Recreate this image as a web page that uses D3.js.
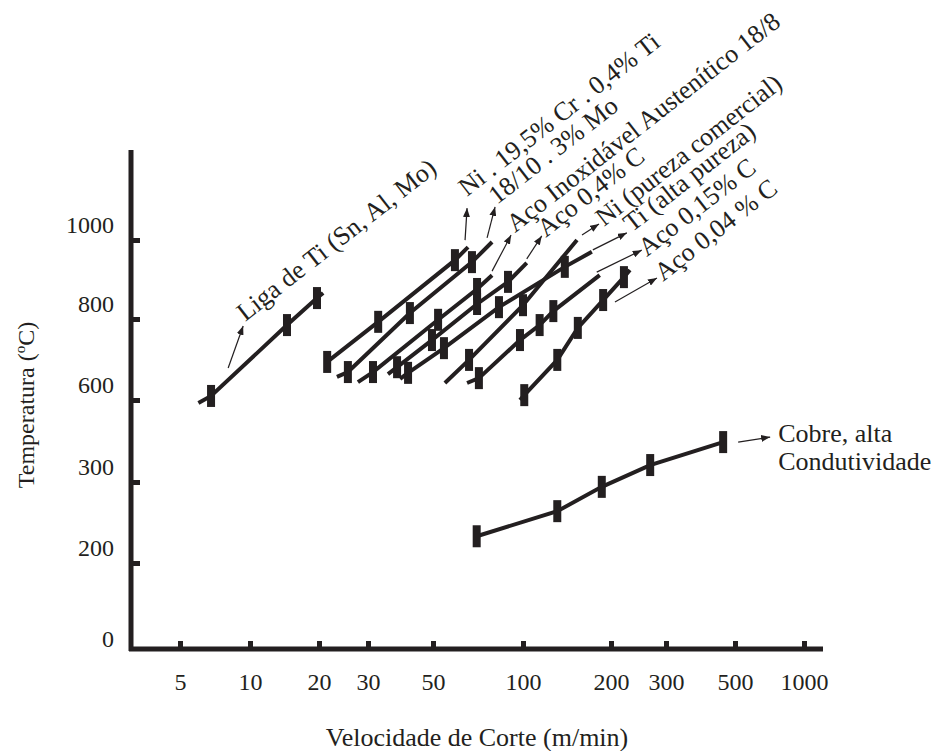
<!DOCTYPE html>
<html>
<head>
<meta charset="utf-8">
<script src="https://cdn.jsdelivr.net/npm/d3@7"></script>
<style>
  body { margin: 0; background: #fff; }
  text { font-family: "Liberation Serif", "Times New Roman", serif; fill: #231f20; }
</style>
</head>
<body>
<div id="viz"></div>
<script>
// axis ticks: cutting speed (m/min) and temperature (°C)
const xTicks = [5, 10, 20, 30, 50, 100, 200, 300, 500, 1000]
const yTicks = [0, 200, 300, 600, 800, 1000]

// measured points for each material: speed V (m/min), temperature T (°C)
const ligaTiV = [6.8, 14.5, 19.6]
const ligaTiT = [610, 785, 853]
const niCrV = [21.4, 32.5, 59.2]
const niCrT = [694, 793, 949]
const moV = [25.4, 41.7, 67.5]
const moT = [669, 815, 944]
const inoxV = [31.2, 52, 70.2]
const inoxT = [669, 798, 876]
const aco04V = [37.7, 49.6, 70.2, 89.1]
const aco04T = [681, 748, 838, 894]
const tiV = [41.1, 54.4, 83.1, 139]
const tiT = [667, 728, 830, 932]
const niV = [66, 100]
const niT = [699, 835]
const aco015V = [71.2, 97.7, 114, 127]
const aco015T = [654, 748, 785, 820]
const aco004V = [101, 131, 154, 188, 220]
const aco004T = [612, 699, 778, 848, 906]
const cobreV = [70, 131, 186, 267, 458]
const cobreT = [233, 264, 294, 362, 446]

// where each drawn line starts and ends [V, T]
const ligaTiLine = [[6.0, 589], [20.7, 866]]
const niCrLine = [[21.4, 694], [65.5, 982]]
const moLine = [[23.2, 657], [78.8, 995]]
const inoxLine = [[27.6, 644], [78.8, 911]]
const aco04Line = [[35.1, 664], [103, 942]]
const tiLine = [[38.6, 652], [172, 970]]
const niLine = [[54.8, 642], [153, 1000]]
const aco015Line = [[65, 642], [183, 911]]
const aco004Line = [[97.7, 600], [230, 924]]

const width = 937
const height = 751

// arrow (from, to) and label position are pixel offsets from the line end
const series = [
  { v: ligaTiV, t: ligaTiT, line: ligaTiLine, label: "Liga de Ti (Sn, Al, Mo)", arrow: [[-95, 75], [-80, 33]], at: [-78, 29] },
  { v: niCrV, t: niCrT, line: niCrLine, label: "Ni . 19,5% Cr . 0,4% Ti", arrow: [[-3, -7], [-1, -39]], at: [-1, -50] },
  { v: moV, t: moT, line: moLine, label: "18/10 . 3% Mo", arrow: [[-5, -4], [3, -35]], at: [5, -37] },
  { v: inoxV, t: inoxT, line: inoxLine, label: "Aço Inoxidável Austenítico 18/8", arrow: [[0, -4], [19, -40]], at: [23, -42] },
  { v: aco04V, t: aco04T, line: aco04Line, label: "Aço 0,4% C", arrow: [[0, -4], [15, -27]], at: [19, -25] },
  { v: niV, t: niT, line: niLine, label: "Ni (pureza comercial)", arrow: [[5, -5], [22, -16]], at: [27, -13] },
  { v: tiV, t: tiT, line: tiLine, label: "Ti (alta pureza)", arrow: [[1, -2], [35, -19]], at: [40, -19] },
  { v: aco015V, t: aco015T, line: aco015Line, label: "Aço 0,15% C", arrow: [[-3, -3], [42, -25]], at: [47, -18] },
  { v: aco004V, t: aco004T, line: aco004Line, label: "Aço 0,04 % C", arrow: [[-15, 32], [27, 8]], at: [33, 12] },
  { v: cobreV, t: cobreT, line: null, label: null, arrow: [[15, 0], [47, -5]], at: [55, 0] }
]

const svg = d3.select("#viz").append("svg")
  .attr("width", width)
  .attr("height", height)

svg.append("defs").append("marker")
  .attr("id", "head")
  .attr("markerUnits", "userSpaceOnUse")
  .attr("markerWidth", 9)
  .attr("markerHeight", 7)
  .attr("refX", 9)
  .attr("refY", 3.5)
  .attr("orient", "auto")
  .append("path")
    .attr("d", "M0,0 L9,3.5 L0,7 Z")
    .attr("fill", "#231f20")

// the speed axis is hand drawn in the original, so the log scale is piecewise
const x = d3.scaleLog()
  .domain(xTicks)
  .range([180, 250, 319, 368, 433, 523, 611, 666, 735, 804])

const y = d3.scaleLinear()
  .domain(yTicks)
  .range([648, 563, 482, 400, 319, 240])

const ink = "#231f20"

// axes
svg.append("line")
  .attr("x1", 131).attr("x2", 131)
  .attr("y1", 150).attr("y2", 651)
  .attr("stroke", ink).attr("stroke-width", 5)
svg.append("line")
  .attr("x1", 129).attr("x2", 823)
  .attr("y1", 649).attr("y2", 649)
  .attr("stroke", ink).attr("stroke-width", 5)

const xAxis = svg.append("g")
  .attr("transform", "translate(0,649)")
  .call(d3.axisBottom(x).tickValues(xTicks).tickFormat(d3.format("d")).tickSize(-8).tickPadding(24))
xAxis.select(".domain").remove()
xAxis.selectAll(".tick line").attr("stroke", ink).attr("stroke-width", 5)
xAxis.selectAll(".tick text")
  .attr("font-family", null)
  .style("font-size", "24px")

const yAxis = svg.append("g")
  .attr("transform", "translate(131,0)")
  .call(d3.axisLeft(y).tickValues(yTicks).tickFormat(d3.format("d")).tickSize(-9).tickPadding(17))
yAxis.select(".domain").remove()
yAxis.selectAll(".tick line")
  .attr("stroke", ink).attr("stroke-width", 5)
  .attr("display", d => d === 0 ? "none" : null)
yAxis.selectAll(".tick text")
  .attr("font-family", null)
  .style("font-size", "24px")
  .attr("dy", d => d === 0 ? "-0.05em" : "-0.3em")

// series lines and markers
const lineGen = d3.line().x(d => x(d[0])).y(d => y(d[1]))

series.forEach(s => {
  const pts = s.v.map((v, i) => [v, s.t[i]])
  const path = s.line ? [s.line[0], ...pts, s.line[1]] : pts
  svg.append("path")
    .attr("d", lineGen(path))
    .attr("fill", "none")
    .attr("stroke", ink)
    .attr("stroke-width", 4)

  svg.selectAll(null)
    .data(pts)
    .enter()
    .append("rect")
      .attr("x", d => x(d[0]) - 4)
      .attr("y", d => y(d[1]) - 11)
      .attr("width", 8)
      .attr("height", 22)
      .attr("fill", ink)

  const end = path[path.length - 1]
  const ex = x(end[0])
  const ey = y(end[1])
  svg.append("line")
    .attr("x1", ex + s.arrow[0][0]).attr("y1", ey + s.arrow[0][1])
    .attr("x2", ex + s.arrow[1][0]).attr("y2", ey + s.arrow[1][1])
    .attr("stroke", ink)
    .attr("stroke-width", 1.2)
    .attr("marker-end", "url(#head)")

  if (s.label) {
    svg.append("text")
      .attr("transform", `translate(${ex + s.at[0]},${ey + s.at[1]}) rotate(-38)`)
      .style("font-size", "26px")
      .text(s.label)
  } else {
    const t = svg.append("text")
      .attr("x", ex + s.at[0])
      .attr("y", ey + s.at[1])
      .style("font-size", "26px")
    t.append("tspan").text("Cobre, alta")
    t.append("tspan").attr("x", ex + s.at[0]).attr("dy", 28).text("Condutividade")
  }
})

// axis titles
svg.append("text")
  .attr("x", 477)
  .attr("y", 746)
  .attr("text-anchor", "middle")
  .style("font-size", "26px")
  .text("Velocidade de Corte (m/min)")

const yt = svg.append("text")
  .attr("transform", "translate(34,405) rotate(-90)")
  .attr("text-anchor", "middle")
  .style("font-size", "24px")
yt.append("tspan").text("Temperatura (")
yt.append("tspan").attr("dy", -9).style("font-size", "15px").text("o")
yt.append("tspan").attr("dy", 9).text("C)")
</script>
</body>
</html>
